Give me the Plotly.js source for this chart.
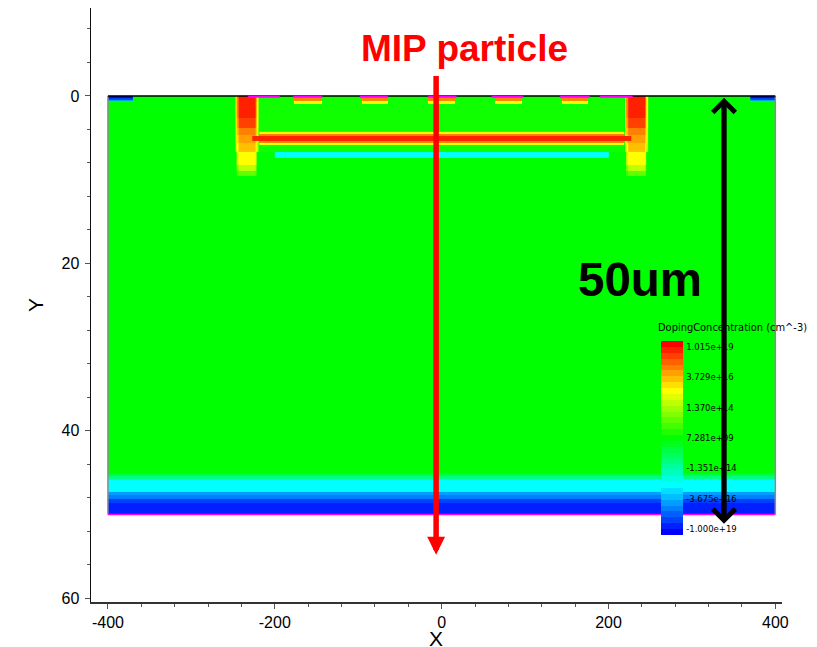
<!DOCTYPE html>
<html>
<head>
<meta charset="utf-8">
<script src="https://cdn.plot.ly/plotly-3.0.1.min.js"></script>
<style>html,body{margin:0;padding:0;background:#fff}</style>
</head>
<body>
<div id="chart" style="width:817px;height:647px"></div>
<script>
// Doping map, read as colour-scale levels: 0 = -1.000e+19, 3 = 7.281e+09, 6 = 1.015e+19
const colorbarTickLevels = [0, 1, 2, 3, 4, 5, 6];
const colorbarTickText = ['-1.000e+19', '-3.675e+16', '-1.351e+14', '7.281e+09', '1.370e+14', '3.729e+16', '1.015e+19'];

const bodyX = [-400, 400];
const bodyY = [0, 45.2, 45.4, 45.7, 45.9, 47.3, 47.7, 48.1, 48.6, 50];
const bodyZ = [[3.0], [2.7], [2.3], [1.9], [1.4], [0.9], [0.6], [0.3], [0.0]];

const innerX = [-219, 219];
const innerY = [0, 6.7];
const innerZ = [[3.1]];

const deepLeftX = [-247, -245.5, -244, -223, -221.5, -220];
const deepRightX = [220, 221.5, 223, 244, 245.5, 247];
const deepY = [0, 2.6, 3.8, 4.66, 5.6, 6.7, 8.2, 8.9, 9.5];
const deepZ = [
  [4.6, 5.4, 6.0, 5.4, 4.6],
  [4.5, 5.2, 5.7, 5.2, 4.5],
  [4.4, 5.0, 5.4, 5.0, 4.4],
  [4.3, 4.8, 5.2, 4.8, 4.3],
  [4.1, 4.6, 4.9, 4.6, 4.1],
  [null, 4.4, 4.6, 4.4, null],
  [null, 3.7, 4.1, 3.7, null],
  [null, 3.3, 3.6, 3.3, null]
];

const barX = [-227, -219, 219, 227];
const barY = [4.3, 4.54, 4.72, 5.38, 5.56, 5.85];
const barZ = [
  [null, 4.6, null],
  [null, 5.3, null],
  [6.0, 6.0, 6.0],
  [null, 5.3, null],
  [null, 4.6, null]
];

const buriedX = [-200, 200];
const buriedY = [6.7, 7.4];
const buriedZ = [[1.4]];

const implantX = [-177, -144, -95, -64, -16, 16, 64, 96, 144, 176];
const implantY = [0, 0.6, 0.9];
const implantZ = [
  [5.3, null, 5.3, null, 5.3, null, 5.3, null, 5.3],
  [4.5, null, 4.5, null, 4.5, null, 4.5, null, 4.5]
];

const cornerLeftX = [-400, -370];
const cornerRightX = [370, 400];
const cornerY = [0, 0.25, 0.45, 0.65];
const cornerZ = [[-0.1], [0.3], [0.8]];

const topLineX = [-400, 400];
const topLineY = [0, 0];
const contactX = [-232, -194, null, -178, -143, null, -98, -64, null, -16, 18, null, 60, 98, null, 142, 178, null, 190, 229];
const contactY = [0.1, 0.1, null, 0.1, 0.1, null, 0.1, 0.1, null, 0.1, 0.1, null, 0.1, 0.1, null, 0.1, 0.1, null, 0.1, 0.1];
const backLineX = [-400, 400];
const backLineY = [50, 50];
const sideLineX = [-400, -400, null, 400, 400];
const sideLineY = [0, 50, null, 0, 50];

const xTicks = [-400, -200, 0, 200, 400];
const xTickText = ['-400', '-200', '0', '200', '400'];
const yTicks = [0, 20, 40, 60];
const yTickText = ['0', '20', '40', '60'];

// Rainbow scale in 33 flat bands, blue to red
const BANDS = 33;
function hueColor(h) {
  const c = t => Math.round(255 * Math.max(0, Math.min(1, t)));
  const f = n => { const k = (n + h / 60) % 6; return c(1 - Math.max(0, Math.min(k, 4 - k, 1))); };
  return 'rgb(' + f(5) + ',' + f(3) + ',' + f(1) + ')';
}
const colorscale = [];
for (let i = 0; i < BANDS; i++) {
  const col = hueColor(240 * (1 - i / (BANDS - 1)));
  colorscale.push([i / BANDS, col], [(i + 1) / BANDS, col]);
}

const map = (x, y, z) => ({type: 'heatmap', x, y, z, coloraxis: 'coloraxis', hoverinfo: 'skip', zsmooth: false});
const line = (x, y, color, width) => ({type: 'scatter', mode: 'lines', x, y, line: {color, width}, hoverinfo: 'skip', showlegend: false});

const data = [
  map(bodyX, bodyY, bodyZ),
  {type: 'heatmap', x: innerX, y: innerY, z: innerZ, zmin: 0, zmax: 6,
   colorscale: [[0, '#10ff00'], [1, '#10ff00']], showscale: false, hoverinfo: 'skip'},
  map(deepLeftX, deepY, deepZ),
  map(deepRightX, deepY, deepZ),
  map(barX, barY, barZ),
  map(buriedX, buriedY, buriedZ),
  map(implantX, implantY, implantZ),
  map(cornerLeftX, cornerY, cornerZ),
  map(cornerRightX, cornerY, cornerZ),
  line(sideLineX, sideLineY, '#8a8a8a', 1.5),
  line(topLineX, topLineY, '#000000', 1.5),
  line(contactX, contactY, '#ff00ff', 2),
  line(backLineX, backLineY, '#ff00ff', 1.5)
];

const axisFont = {family: '"Liberation Sans", Arial, sans-serif', size: 16, color: '#000'};
const titleFont = {family: '"Liberation Sans", Arial, sans-serif', size: 21, color: '#000'};
const layout = {
  width: 817, height: 647,
  margin: {l: 91, r: 35, t: 8, b: 45, pad: 0},
  paper_bgcolor: '#fff', plot_bgcolor: '#fff',
  showlegend: false,
  xaxis: {
    range: [-420.3, 408], autorange: false, zeroline: false, showgrid: false,
    showline: true, linecolor: '#333', linewidth: 1.5,
    ticks: 'outside', ticklen: 5, tickcolor: '#555', tickwidth: 1,
    tickmode: 'array', tickvals: xTicks, ticktext: xTickText, tickfont: axisFont,
    minor: {tickmode: 'linear', tick0: -400, dtick: 40, ticks: 'outside', ticklen: 3, tickcolor: '#555', tickwidth: 1, showgrid: false}
  },
  yaxis: {
    range: [60.45, -10.5], autorange: false, zeroline: false, showgrid: false,
    showline: true, linecolor: '#111', linewidth: 1.5,
    ticks: 'outside', ticklen: 5, tickcolor: '#555', tickwidth: 1, ticklabelstandoff: 2,
    tickmode: 'array', tickvals: yTicks, ticktext: yTickText, tickfont: axisFont,
    minor: {tickmode: 'linear', tick0: 0, dtick: 4, ticks: 'outside', ticklen: 3, tickcolor: '#555', tickwidth: 1, showgrid: false},
    title: {text: 'Y', standoff: 12, font: titleFont}
  },
  coloraxis: {
    cmin: -0.2, cmax: 6.2, colorscale,
    colorbar: {
      xref: 'paper', yref: 'paper',
      x: (661 - 91) / 691, xanchor: 'left', xpad: 0,
      y: (602 - 341) / 594, yanchor: 'top', ypad: 0,
      thickness: 22, thicknessmode: 'pixels', len: 194, lenmode: 'pixels',
      outlinewidth: 0, borderwidth: 0,
      tickmode: 'array', tickvals: colorbarTickLevels, ticktext: colorbarTickText,
      ticks: 'outside', ticklen: 2, tickcolor: 'rgba(0,0,0,0)',
      tickfont: {family: '"DejaVu Sans", sans-serif', size: 8.5, color: '#000'}
    }
  },
  annotations: [
    {xref: 'x', yref: 'paper', x: -7, y: -0.0614, yanchor: 'middle', showarrow: false, text: 'X',
     font: titleFont, borderpad: 0},
    {xref: 'x', yref: 'y', x: 348.7, y: 27.7, showarrow: false, text: 'DopingConcentration (cm^-3)',
     font: {family: '"DejaVu Sans", sans-serif', size: 9.9, color: '#000'}},
    {xref: 'x', yref: 'y', x: 28, y: -5.7, showarrow: false, text: '<b>MIP particle</b>',
     font: {family: '"Liberation Sans", Arial, sans-serif', size: 37, color: '#ff0000'}},
    {xref: 'x', yref: 'y', x: 238, y: 21.9, showarrow: false, text: '<b>50um</b>',
     font: {family: '"Liberation Sans", Arial, sans-serif', size: 47.5, color: '#000'}},
    {xref: 'x', yref: 'y', axref: 'x', ayref: 'y', x: -6.6, y: 54.8, ax: -6.6, ay: -2.5,
     font: {size: 1}, borderpad: 0,
     showarrow: true, arrowhead: 2, arrowwidth: 5.5, arrowsize: 0.65, arrowcolor: '#ff0000', standoff: 0},
    {xref: 'x', yref: 'y', axref: 'x', ayref: 'y', x: 338.5, y: 51.1, ax: 338.5, ay: 0.1,
     font: {size: 1}, borderpad: 0,
     showarrow: true, arrowhead: 4, startarrowhead: 4, arrowside: 'end+start', arrowwidth: 5.3,
     arrowsize: 0.82, startarrowsize: 0.82, arrowcolor: '#000000', standoff: 0}
  ]
};

Plotly.newPlot('chart', data, layout, {displayModeBar: false, staticPlot: true});
</script>
</body>
</html>
